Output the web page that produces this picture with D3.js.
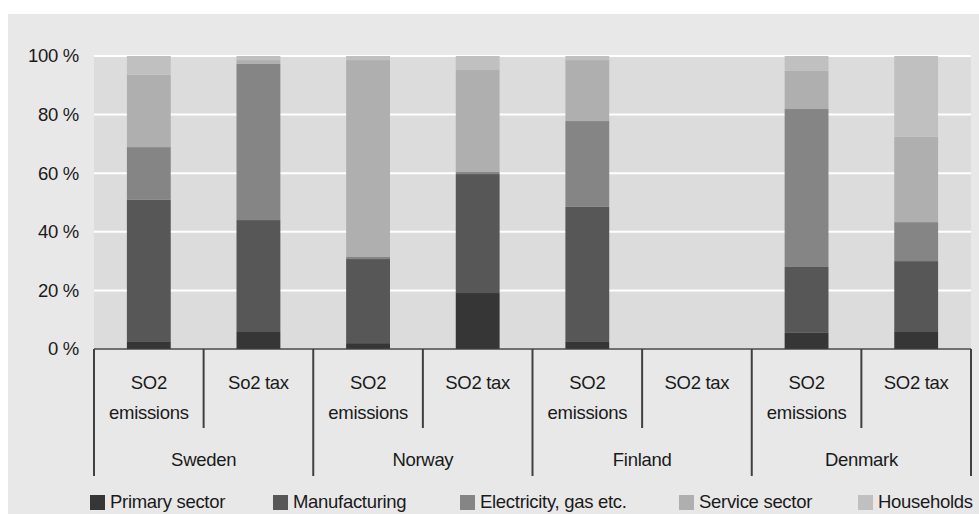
<!DOCTYPE html>
<html>
<head>
<meta charset="utf-8">
<script src="https://cdn.jsdelivr.net/npm/d3@7"></script>
<style>
  html, body { margin: 0; padding: 0; background: #ffffff; }
  svg { display: block; font-family: "Liberation Sans", Arial, sans-serif; }
</style>
</head>
<body>
<svg id="chart" width="979" height="514"></svg>
<script>
// Countries, and the two bars shown per country
const countries = ["Sweden", "Norway", "Finland", "Denmark"];
const barLabels = [
  ["SO2", "emissions"], ["So2 tax"],
  ["SO2", "emissions"], ["SO2 tax"],
  ["SO2", "emissions"], ["SO2 tax"],
  ["SO2", "emissions"], ["SO2 tax"]
];
const barCountry = ["Sweden", "Sweden", "Norway", "Norway", "Finland", "Finland", "Denmark", "Denmark"];

// Sector shares, percent of each bar
const sectors = ["Primary sector", "Manufacturing", "Electricity, gas etc.", "Service sector", "Households"];
const primary       = [2.4,  5.8,  2.0, 19.1,  2.4, 0,  5.5,  5.8];
const manufacturing = [48.5, 38.2, 28.7, 40.6, 46.1, 0, 22.5, 24.2];
const electricity   = [18.0, 53.3,  0.7,  0.7, 29.3, 0, 53.9, 13.3];
const service       = [24.7,  1.3, 67.2, 34.8, 20.8, 0, 13.0, 29.1];
const households    = [6.4,   1.4,  1.4,  4.8,  1.4, 0,  5.1, 27.6];
const yTicks = [0, 20, 40, 60, 80, 100];

const colors = ["#363636", "#575757", "#858585", "#afafaf", "#c0c0c0"];

const svg = d3.select("#chart");
const plotLeft = 94, plotRight = 971, plotTop = 56, plotBottom = 349;
const fontSize = 18.5;

// Outer panel
svg.append("rect").attr("x", 8).attr("y", 14).attr("width", 971).attr("height", 500).attr("fill", "#e8e8e8");

const ids = barLabels.map((d, i) => "b" + i);
const rows = ids.map((id, i) => ({
  id,
  "Primary sector": primary[i],
  "Manufacturing": manufacturing[i],
  "Electricity, gas etc.": electricity[i],
  "Service sector": service[i],
  "Households": households[i]
}));

const x = d3.scaleBand().domain(ids).range([plotLeft, plotRight]).paddingInner(0.6).paddingOuter(0.3);
const y = d3.scaleLinear().domain([0, 100]).range([plotBottom, plotTop]);
const color = d3.scaleOrdinal().domain(sectors).range(colors);

// Plot area
svg.append("rect").attr("x", plotLeft).attr("y", plotTop)
  .attr("width", plotRight - plotLeft).attr("height", plotBottom - plotTop).attr("fill", "#dcdcdc");

// Gridlines
svg.append("g").selectAll("line").data(yTicks).join("line")
  .attr("x1", plotLeft).attr("x2", plotRight)
  .attr("y1", d => y(d)).attr("y2", d => y(d))
  .attr("stroke", "#ffffff").attr("stroke-width", 2);

// Stacked bars
const stacked = d3.stack().keys(sectors)(rows);
svg.append("g").selectAll("g").data(stacked).join("g")
  .attr("fill", d => color(d.key))
  .selectAll("rect").data(d => d).join("rect")
  .attr("x", d => x(d.data.id))
  .attr("width", x.bandwidth())
  .attr("y", d => y(d[1]))
  .attr("height", d => Math.max(0, y(d[0]) - y(d[1])));

// Y axis labels
const yAxis = svg.append("g").attr("transform", `translate(${plotLeft},0)`)
  .call(d3.axisLeft(y).tickValues(yTicks).tickFormat(d => d + " %").tickSize(0).tickPadding(15));
yAxis.select(".domain").remove();
yAxis.selectAll("text").attr("font-size", fontSize).attr("fill", "#1a1a1a")
  .attr("font-family", "'Liberation Sans', Arial, sans-serif").attr("letter-spacing", -0.3);

// Baseline
svg.append("line").attr("x1", plotLeft).attr("x2", plotRight).attr("y1", plotBottom).attr("y2", plotBottom)
  .attr("stroke", "#404040").attr("stroke-width", 1.5);

// Category dividers
const step = x.step();
const edges = ids.map(id => x(id) - step * 0.3).concat([plotRight]);
svg.append("g").selectAll("line").data(edges).join("line")
  .attr("x1", d => d).attr("x2", d => d)
  .attr("y1", plotBottom)
  .attr("y2", (d, i) => (i % 2 === 0 ? 476 : 428))
  .attr("stroke", "#404040").attr("stroke-width", 2);

// Bar labels
const lab = svg.append("g").attr("font-size", fontSize).attr("fill", "#1a1a1a")
  .attr("text-anchor", "middle").attr("letter-spacing", -0.3);
barLabels.forEach((lines, i) => {
  const cx = x(ids[i]) + x.bandwidth() / 2;
  lines.forEach((t, j) => {
    lab.append("text").attr("x", cx).attr("y", 383 + j * 30).attr("dy", "0.35em").text(t);
  });
});

// Country labels
countries.forEach(c => {
  const idx = barCountry.map((b, i) => b === c ? i : -1).filter(i => i >= 0);
  const x0 = x(ids[idx[0]]) - step * 0.3;
  const x1 = x(ids[idx[idx.length - 1]]) + x.bandwidth() + step * 0.3;
  lab.append("text").attr("x", (x0 + x1) / 2).attr("y", 460).attr("dy", "0.35em").text(c);
});

// Legend
const legendX = [90, 273, 460, 679, 858];
const legend = svg.append("g").attr("font-size", fontSize).attr("fill", "#1a1a1a").attr("letter-spacing", -0.3);
sectors.forEach((s, i) => {
  legend.append("rect").attr("x", legendX[i]).attr("y", 495).attr("width", 15).attr("height", 15).attr("fill", color(s));
  legend.append("text").attr("x", legendX[i] + 20).attr("y", 502).attr("dy", "0.35em").text(s);
});
</script>
</body>
</html>
